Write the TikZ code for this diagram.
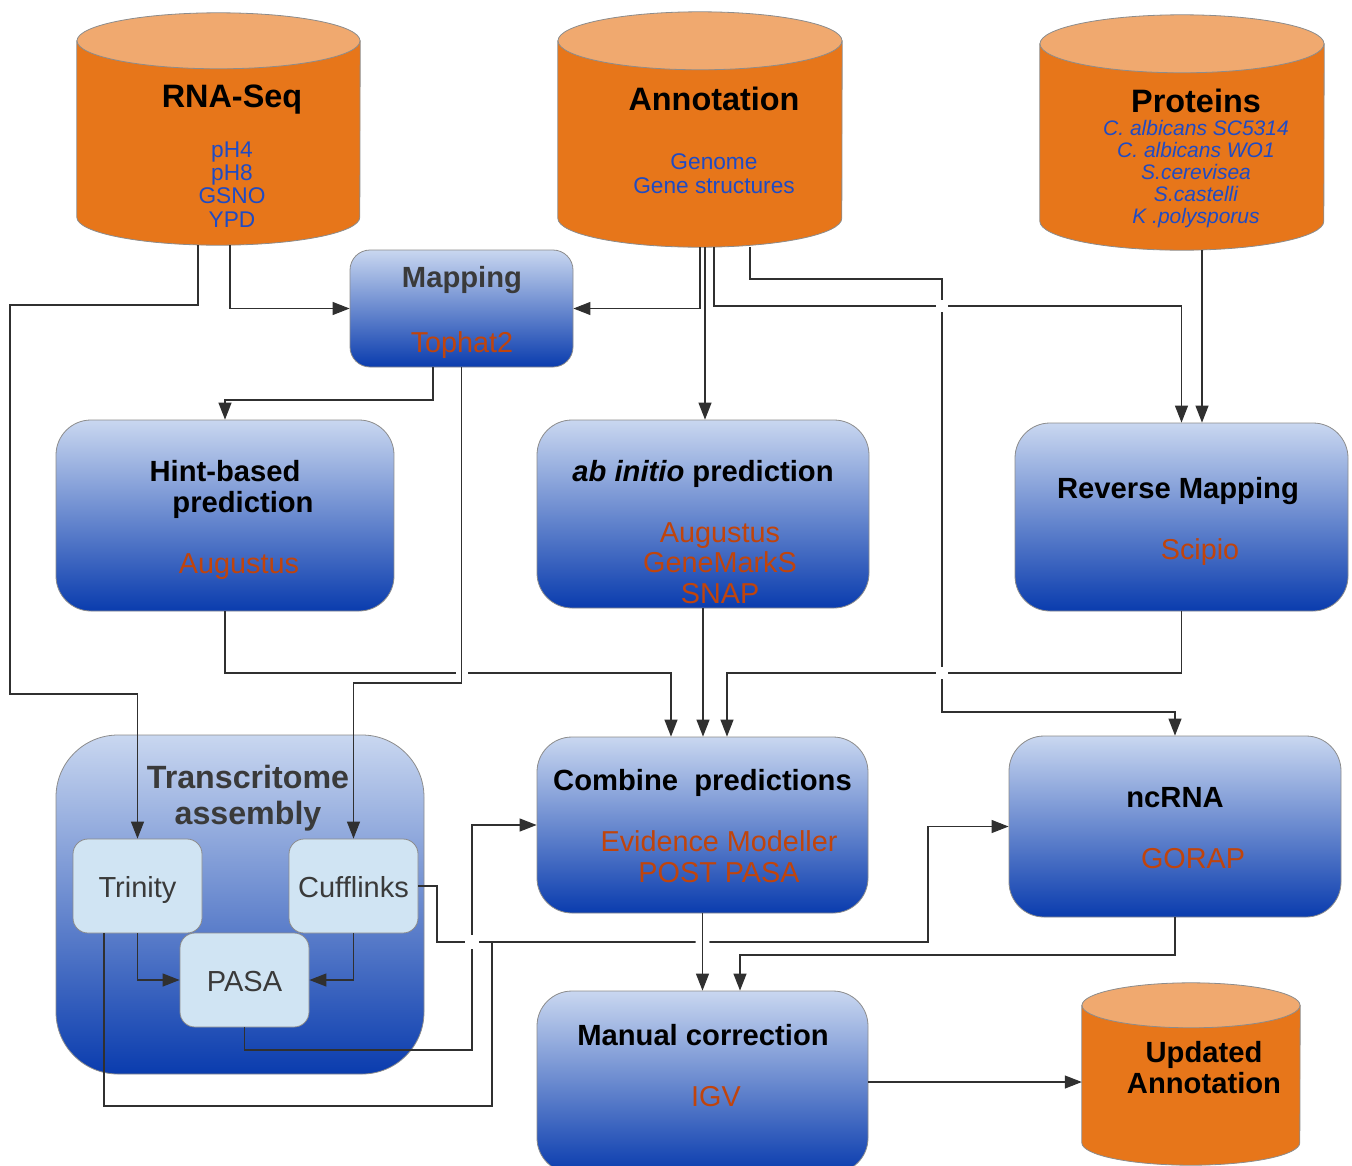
\documentclass[tikz,border=0pt]{standalone}
\usepackage{fontspec}
\setmainfont{Liberation Sans}
\usepackage{xcolor}
\usetikzlibrary{arrows.meta, positioning, calc}

\definecolor{cylbody}{HTML}{E7761A}
\definecolor{cyltop}{HTML}{F0A96F}
\definecolor{boxtop}{HTML}{C9D7F0}
\definecolor{boxbot}{HTML}{0A3CAE}
\definecolor{innerbox}{HTML}{D0E4F3}
\definecolor{tooltext}{HTML}{C0440C}
\definecolor{datatext}{HTML}{1E4BC5}
\definecolor{edgegray}{HTML}{8C8C8C}
\definecolor{linegray}{HTML}{303030}
\definecolor{headgray}{HTML}{3A3A3A}

\begin{document}
\begin{tikzpicture}[
    x=1pt, y=-1pt,
    dbnode/.style={rectangle, inner sep=0pt},
    cylside/.style={fill=cylbody, draw=edgegray, line width=0.8pt},
    cylcap/.style={fill=cyltop, draw=edgegray, line width=0.8pt},
    stepbox/.style={
        rectangle,
        draw=edgegray,
        line width=0.8pt,
        top color=boxtop,
        bottom color=boxbot,
        rounded corners=35pt,
        inner sep=0pt
    },
    toolbox/.style={
        rectangle,
        draw=edgegray,
        line width=0.8pt,
        fill=innerbox,
        rounded corners=15pt,
        minimum width=129pt,
        minimum height=94pt,
        inner sep=0pt
    },
    cylhead/.style={anchor=base, align=center, font=\fontsize{32.4}{30}\selectfont\bfseries},
    dbitem/.style={anchor=base, align=center, text=datatext, font=\fontsize{22.7}{23.3}\selectfont},
    boxhead/.style={anchor=base, align=center, font=\fontsize{29.2}{31}\selectfont\bfseries},
    toolname/.style={anchor=base, align=center, text=tooltext, font=\fontsize{28.8}{30.5}\selectfont},
    toollabel/.style={anchor=base, text=headgray, font=\fontsize{29}{31}\selectfont},
    conn/.style={draw=linegray, line width=1.2pt, -{Triangle[length=17pt, width=13pt]}},
    plain/.style={draw=linegray, line width=1.2pt}
]
\useasboundingbox (0,0) rectangle (1352,1165);

% data sources
\node[dbnode, minimum width=283pt, minimum height=232pt] (rnaseq) at (218.5,129) {};
\path[cylside] ([yshift=-28pt]rnaseq.north west) -- ([yshift=28pt]rnaseq.south west)
    arc[start angle=180, end angle=360, x radius=141.5pt, y radius=28pt]
    -- ([yshift=-28pt]rnaseq.north east) -- cycle;
\path[cylcap] ([yshift=-28pt]rnaseq.north) ellipse[x radius=141.5pt, y radius=28pt];
\node[cylhead] (rnaseq-h) at (232,107) {RNA-Seq};
\node[dbitem] (rnaseq-l) at (232,227) {pH4\\pH8\\GSNO\\YPD};

\node[dbnode, minimum width=284pt, minimum height=235pt] (annot) at (700,129.5) {};
\path[cylside] ([yshift=-29pt]annot.north west) -- ([yshift=29pt]annot.south west)
    arc[start angle=180, end angle=360, x radius=142pt, y radius=29pt]
    -- ([yshift=-29pt]annot.north east) -- cycle;
\path[cylcap] ([yshift=-29pt]annot.north) ellipse[x radius=142pt, y radius=29pt];
\node[cylhead] (annot-h) at (714,110) {Annotation};
\node[dbitem] (annot-l) at (714,193) {Genome\\Gene structures};

\node[dbnode, minimum width=284pt, minimum height=235pt] (prot) at (1182,132.5) {};
\path[cylside] ([yshift=-29pt]prot.north west) -- ([yshift=29pt]prot.south west)
    arc[start angle=180, end angle=360, x radius=142pt, y radius=29pt]
    -- ([yshift=-29pt]prot.north east) -- cycle;
\path[cylcap] ([yshift=-29pt]prot.north) ellipse[x radius=142pt, y radius=29pt];
\node[cylhead] (prot-h) at (1196,112) {Proteins};
\node[dbitem, font=\fontsize{21}{22}\selectfont\itshape] (prot-l) at (1196,223)
    {C. albicans SC5314\\C. albicans WO1\\S.cerevisea\\S.castelli\\K .polysporus};

% steps
\node[stepbox, rounded corners=20pt, minimum width=223pt, minimum height=117pt] (mapping) at (461.5,308.5) {};
\node[boxhead, text=headgray] (mapping-h) at (462,287) {Mapping};
\node[toolname] (mapping-t) at (462,352) {Tophat2};

\node[stepbox, minimum width=338pt, minimum height=191pt] (hint) at (225,515.5) {};
\node[boxhead] (hint-h) at (225,512.5) {Hint-based\\\hspace*{36pt}prediction};
\node[toolname] (hint-t) at (239,573) {Augustus};

\node[stepbox, minimum width=332pt, minimum height=188pt] (abinitio) at (703,514) {};
\node[boxhead] (abinitio-h) at (703,481.5) {\textit{ab initio} prediction};
\node[toolname] (abinitio-t) at (720,603) {Augustus\\GeneMarkS\\SNAP};

\node[stepbox, minimum width=333pt, minimum height=188pt] (revmap) at (1181.5,517) {};
\node[boxhead] (revmap-h) at (1178,498.5) {Reverse Mapping};
\node[toolname] (revmap-t) at (1200,559) {Scipio};

\node[stepbox, rounded corners=62pt, minimum width=368pt, minimum height=339pt] (transcr) at (240,904.5) {};
\node[cylhead, text=headgray, font=\fontsize{32.2}{36}\selectfont\bfseries] (transcr-h) at (248,824) {Transcritome\\assembly};
\node[toolbox] (trinity) at (137.5,886) {};
\node[toollabel] (trinity-l) at (137.5,897) {Trinity};
\node[toolbox] (cufflinks) at (353.5,886) {};
\node[toollabel] (cufflinks-l) at (353.5,897) {Cufflinks};
\node[toolbox] (pasa) at (244.5,980) {};
\node[toollabel] (pasa-l) at (244.5,991) {PASA};

\node[stepbox, minimum width=331pt, minimum height=176pt] (combine) at (702.5,825) {};
\node[boxhead] (combine-h) at (702.5,790.5) {Combine\ \ predictions};
\node[toolname] (combine-t) at (719,882) {Evidence Modeller\\POST PASA};

\node[stepbox, minimum width=332pt, minimum height=181pt] (ncrna) at (1175,826.5) {};
\node[boxhead] (ncrna-h) at (1175,807.5) {ncRNA};
\node[toolname] (ncrna-t) at (1193,868) {GORAP};

\node[stepbox, minimum width=331pt, minimum height=182pt] (manual) at (702.5,1082) {};
\node[boxhead] (manual-h) at (703,1045.5) {Manual correction};
\node[toolname] (manual-t) at (716,1106) {IGV};

% result
\node[dbnode, minimum width=218pt, minimum height=182pt] (updated) at (1191,1074) {};
\path[cylside] ([yshift=-22.5pt]updated.north west) -- ([yshift=22.5pt]updated.south west)
    arc[start angle=180, end angle=360, x radius=109pt, y radius=22.5pt]
    -- ([yshift=-22.5pt]updated.north east) -- cycle;
\path[cylcap] ([yshift=-22.5pt]updated.north) ellipse[x radius=109pt, y radius=22.5pt];
\node[boxhead] (updated-h) at (1204,1093) {Updated\\Annotation};

% connectors
\draw[conn] ([xshift=-20.5pt]rnaseq.south) |- (10,305) |- (137.5,694) -- (trinity.north);
\draw[conn] ([xshift=11.5pt]rnaseq.south) |- (mapping.west);
\draw[conn] (annot.south) |- (mapping.east);
\draw[conn] ([xshift=5pt]annot.south) -- ([xshift=2pt]abinitio.north);
\draw[conn] ([xshift=14pt]annot.south) |- (1181.5,306) -- (revmap.north);
\draw[conn] ([xshift=50pt]annot.south) |- (942,279) |- (1175,712) -- (ncrna.north);
\draw[conn] ([xshift=20pt]prot.south) -- ([xshift=20.5pt]revmap.north);
\draw[conn] ([xshift=-28.5pt]mapping.south) |- (225,400) -- (hint.north);
\draw[conn] (hint.south) |- (671,673) -- ([xshift=-31.5pt]combine.north);
\draw[conn] (abinitio.south) -- (abinitio.south |- combine.north);
\draw[conn] (revmap.south) |- (727,673) -- ([xshift=24.5pt]combine.north);
\draw[conn] (trinity.south) |- (pasa.west);
\draw[conn] (cufflinks.south) |- (pasa.east);
\draw[conn] (pasa.south) |- (472,1050) |- (combine.west);
\draw[conn] (cufflinks.east) -| (437,942) -- (928,942) |- (ncrna.west);
\draw[plain] ([xshift=-33.5pt]trinity.south) |- (492,1106) -- (492,942);
\draw[conn] (ncrna.south) |- (740,955) -- ([xshift=37.5pt]manual.north);
\draw[conn] (manual.east) -- (manual.east -| updated.west);

% line jumps
\fill[white] (942,306) circle[radius=6pt];
\fill[white] (942,673) circle[radius=6pt];
\fill[white] (462,673) circle[radius=6pt];
\fill[white] (472,942) circle[radius=7pt];
\fill[white] (702.5,942) circle[radius=7pt];

\draw[conn] (mapping.south) |- (353.5,683) -- (cufflinks.north);
\draw[conn] (combine.south) -- (combine.south |- manual.north);

\end{tikzpicture}
\end{document}
